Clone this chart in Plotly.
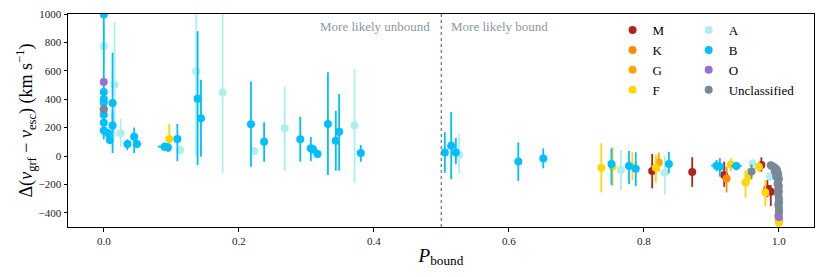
import plotly.graph_objects as go

# ---- data ----
M_x = [0.8123, 0.8716, 0.919, 0.974, 0.983, 0.988]
M_y = [-106, -113, -134, -64, -230, -252]
M_hi = [120, 104, 94, 55, 60, 47]
M_lo = [122, 104, 83, 46, 60, 101]

K_x = [0.9225, 1.0, 0.999]
K_y = [-158, -445, -420]
K_hi = [83, 30, 25]
K_lo = [99, 30, 25]

G_x = [0.822, 1.0]
G_y = [-45, -455]
G_hi = [70, 30]
G_lo = [65, 30]

F_x = [0.097, 0.737, 0.7536, 0.783, 0.8178, 0.929, 0.9506, 0.955, 0.9704, 0.980, 1.0]
F_y = [120, -82, -75, -75, -82, -59, -186, -146, -75, -257, -470]
F_hi = [106, 172, 136, 101, 89, 43, 87, 60, 40, 87, 40]
F_lo = [92, 175, 135, 95, 104, 51, 109, 60, 40, 97, 60]

A_x = [0.0, 0.016, 0.025, 0.113, 0.137, 0.176, 0.223, 0.268, 0.3714, 0.5264,
       0.766, 0.831, 0.961, 0.987, 1.0]
A_y = [773, 502, 160, 42, 596, 448, 35, 196, 214, 7,
       -99, -118, -52, -146, -360]
A_hi = [150, 441, 101, 25, 500, 700, 25, 294, 399, 149,
        141, 121, 30, 30, 30]
A_lo = [150, 372, 96, 25, 601, 570, 25, 302, 403, 132,
        141, 155, 30, 30, 30]

B_x = [0.0, 0.0, 0.0, 0.0, 0.0, 0.0, 0.0, 0.0, 0.0064, 0.009,
       0.013, 0.013, 0.035, 0.045, 0.049, 0.09, 0.095, 0.109, 0.139, 0.144,
       0.218, 0.2375, 0.291, 0.3067, 0.310, 0.3166, 0.332, 0.3437, 0.3486, 0.3807,
       0.5052, 0.5146, 0.5215, 0.614, 0.651, 0.752, 0.778, 0.788, 0.837, 0.9077,
       0.9126, 0.937, 1.0, 1.0]
B_y = [997, 450, 401, 377, 330, 290, 235, 179, 160, 113,
       373, 214, 85, 136, 85, 66, 59, 120, 403, 266,
       224, 101, 118, 54, 47, 14, 226, 108, 170, 21,
       24, 73, 24, -38, -17, -57, -71, -90, -57, -68,
       -75, -71, -330, -400]
B_hi = [500, 30, 30, 30, 30, 30, 30, 30, 30, 30,
        354, 100, 32, 64, 25, 30, 30, 106, 476, 271,
        301, 137, 158, 80, 30, 20, 363, 210, 266, 56,
        143, 236, 103, 134, 71, 111, 106, 116, 87, 40,
        60, 30, 30, 30]
B_lo = [880, 30, 30, 30, 30, 30, 30, 30, 30, 30,
        200, 193, 44, 115, 25, 30, 30, 157, 467, 271,
        300, 141, 158, 91, 30, 20, 360, 212, 274, 61,
        142, 236, 81, 137, 70, 148, 127, 122, 65, 40,
        70, 30, 30, 30]
B_xerr = [0, 0, 0, 0, 0, 0, 0, 0, 0, 0,
          0, 0, 0, 0, 0.006, 0.01, 0, 0, 0, 0,
          0, 0, 0, 0, 0, 0, 0, 0, 0, 0,
          0, 0, 0, 0, 0, 0, 0, 0, 0, 0.008,
          0, 0.008, 0, 0]

O_x = [0.0, 1.0]
O_y = [521, -430]
O_hi = [25, 25]
O_lo = [25, 25]

U_x = [0.0, 0.9595, 0.988, 0.990, 0.993, 0.995, 0.997, 0.994, 0.998, 0.999,
       0.996, 1.0, 0.999, 0.998, 1.0, 0.999, 1.0, 0.999, 1.0, 1.0,
       0.999, 1.0, 1.0]
U_y = [330, -110, -65, -72, -80, -88, -96, -108, -118, -130,
       -145, -160, -178, -195, -212, -230, -250, -272, -295, -318,
       -342, -365, -388]
U_hi = [35, 50, 25, 25, 25, 30, 30, 30, 30, 30,
        30, 30, 30, 30, 30, 30, 30, 30, 30, 30,
        30, 30, 30]
U_lo = [35, 50, 25, 25, 25, 30, 30, 30, 30, 30,
        30, 30, 30, 30, 30, 30, 30, 30, 30, 30,
        30, 30, 30]

x_ticks = [0.0, 0.2, 0.4, 0.6, 0.8, 1.0]
y_ticks = [-400, -200, 0, 200, 400, 600, 800, 1000]

FONT = "Liberation Serif"

fig = go.Figure()


def add(name, xs, ys, hi, lo, color, legend, xerr=None):
    kw = {}
    if xerr is not None:
        kw["error_x"] = dict(type="data", array=xerr, symmetric=True,
                             color=color, thickness=1.8, width=0)
    fig.add_trace(go.Scatter(
        x=xs, y=ys, mode="markers", name=name, legend=legend,
        marker=dict(color=color, size=8, line=dict(width=0)),
        error_y=dict(type="data", array=hi, arrayminus=lo, symmetric=False,
                     color=color, thickness=1.8, width=0),
        **kw))


add("M", M_x, M_y, M_hi, M_lo, "#b22222", "legend")
add("K", K_x, K_y, K_hi, K_lo, "#ff8c00", "legend")
add("G", G_x, G_y, G_hi, G_lo, "#ffa500", "legend")
add("F", F_x, F_y, F_hi, F_lo, "#ffd700", "legend")
add("A", A_x, A_y, A_hi, A_lo, "#afeeee", "legend2")
add("B", B_x, B_y, B_hi, B_lo, "#00bfff", "legend2", xerr=B_xerr)
add("O", O_x, O_y, O_hi, O_lo, "#9370db", "legend2")
add("Unclassified", U_x, U_y, U_hi, U_lo, "#778899", "legend2")

fig.add_vline(x=0.5, line=dict(color="#778899", width=1.5, dash="dot"))

fig.add_annotation(x=0.5, y=0.939, xref="x", yref="paper", text="More likely unbound",
                   showarrow=False, xanchor="right", yanchor="middle", xshift=-9,
                   font=dict(family=FONT, size=13, color="#8a97a6"))
fig.add_annotation(x=0.5, y=0.939, xref="x", yref="paper", text="More likely bound",
                   showarrow=False, xanchor="left", yanchor="middle", xshift=8,
                   font=dict(family=FONT, size=13, color="#8a97a6"))

axis_common = dict(showgrid=False, zeroline=False, showline=True, mirror=True,
                   linecolor="black", linewidth=1, ticks="outside", ticklen=3.5,
                   tickwidth=0.8, tickcolor="black", automargin=False,
                   tickfont=dict(family=FONT, size=11, color="#222"))

fig.update_xaxes(range=[-0.053, 1.052], tickvals=x_ticks, tickformat=".1f",
                 title=dict(text="<i>P</i><sub>bound</sub>",
                            font=dict(family=FONT, size=19, color="black"), standoff=2),
                 **axis_common)
fig.update_yaxes(range=[-500, 1000], tickvals=y_ticks,
                 title=dict(text="Δ(<i>v</i><sub>grf</sub> − <i>v</i><sub>esc</sub>) (km s<sup>−1</sup>)",
                            font=dict(family=FONT, size=18, color="black"), standoff=0),
                 **axis_common)

legend_common = dict(bgcolor="rgba(0,0,0,0)", borderwidth=0,
                     font=dict(family=FONT, size=13, color="black"),
                     xanchor="left", yanchor="top", tracegroupgap=0)
fig.update_layout(
    width=830, height=277,
    margin=dict(l=68, r=16, t=14, b=50, autoexpand=False),
    paper_bgcolor="white", plot_bgcolor="white",
    showlegend=True,
    legend=dict(x=0.73, y=0.995, **legend_common),
    legend2=dict(x=0.832, y=0.995, **legend_common),
)

fig.write_html("out.html", config={"displayModeBar": False},
               post_script="document.body.style.margin='0px';document.body.style.overflow='hidden';")
